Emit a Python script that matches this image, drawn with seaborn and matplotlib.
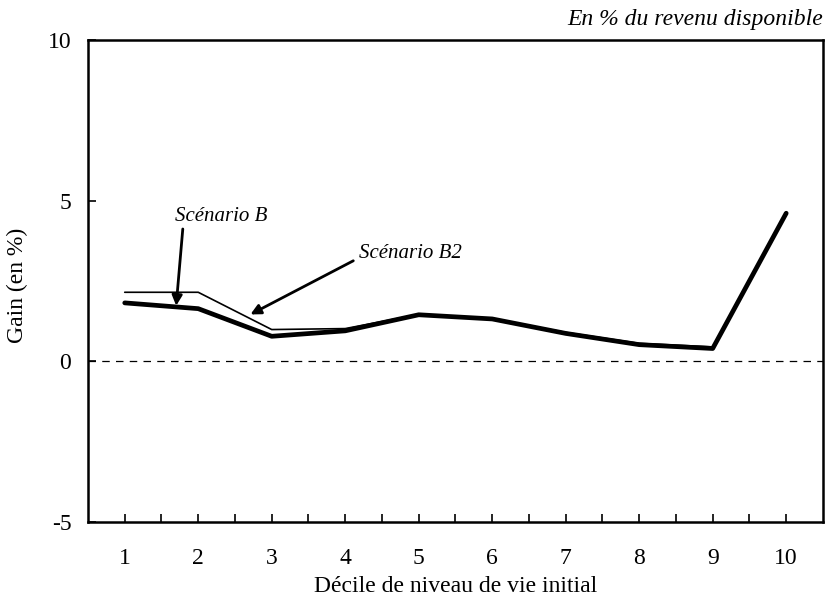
import matplotlib.pyplot as plt
import numpy as np
import pandas as pd
import seaborn as sns

deciles = [1, 2, 3, 4, 5, 6, 7, 8, 9, 10]
gain_b = [1.82, 1.64, 0.78, 0.95, 1.45, 1.32, 0.87, 0.52, 0.40, 4.61]
gain_b2 = [2.15, 2.15, 0.99, 1.02, 1.46, 1.33, 0.90, 0.56, 0.45, 4.61]
y_ticks = [-5, 0, 5, 10]

df = pd.DataFrame({'decile': deciles + deciles,
                   'gain': gain_b + gain_b2,
                   'scenario': ['B'] * 10 + ['B2'] * 10})

sns.set_theme(style='white')
plt.rcParams['font.family'] = ['Liberation Serif', 'DejaVu Serif']
plt.rcParams['text.color'] = 'black'
plt.rcParams['axes.labelcolor'] = 'black'

fig = plt.figure(figsize=(8.3, 6.01), dpi=100)
ax = fig.add_axes([0.106, 0.1314, 0.8855, 0.802])

sns.lineplot(data=df[df['scenario'] == 'B'], x='decile', y='gain',
             color='black', linewidth=3.4, ax=ax, legend=False)
sns.lineplot(data=df[df['scenario'] == 'B2'], x='decile', y='gain',
             color='black', linewidth=1.2, ax=ax, legend=False)
ax.axhline(0, color='black', linewidth=0.9, linestyle=(0, (6, 5)))

ax.set_xlim(0.5, 10.5)
ax.set_ylim(-5, 10)
ax.set_yticks(y_ticks)
ax.set_yticklabels([str(v) for v in y_ticks])
half_ticks = np.arange(1, 10.01, 0.5)
ax.set_xticks(half_ticks)
ax.set_xticklabels([str(int(t)) if t == int(t) else '' for t in half_ticks])
ax.tick_params(axis='x', direction='in', length=6, width=1.2, bottom=True,
               labelsize=17, pad=19, colors='black')
ax.tick_params(axis='y', direction='in', length=6, width=1.2, left=True,
               labelsize=17, pad=12, colors='black')
for s in ax.spines.values():
    s.set_color('black')
    s.set_linewidth(1.8)

ax.set_xlabel('Décile de niveau de vie initial', fontsize=17, labelpad=5)
ax.set_ylabel('')
fig.text(17 / 830, 1 - 285 / 601, 'Gain (en %)', fontsize=17,
         rotation=90, ha='center', va='center')

# annotations: text and arrow drawn separately
ax.text(2.31, 4.52, 'Scénario B', fontsize=15, style='italic',
        ha='center', va='center')
ax.annotate('', xy=(1.70, 1.73), xytext=(1.79, 4.12),
            arrowprops=dict(arrowstyle='-|>', color='black', lw=2,
                            mutation_scale=15, shrinkA=0, shrinkB=0))
ax.text(4.89, 3.37, 'Scénario B2', fontsize=15, style='italic',
        ha='center', va='center')
ax.annotate('', xy=(2.71, 1.46), xytext=(4.11, 3.13),
            arrowprops=dict(arrowstyle='-|>', color='black', lw=2,
                            mutation_scale=15, shrinkA=0, shrinkB=0))

fig.text(0.992, 1 - 19 / 601, 'En % du revenu disponible', fontsize=17,
         style='italic', ha='right', va='center')

fig.savefig('out.png', dpi=100)
